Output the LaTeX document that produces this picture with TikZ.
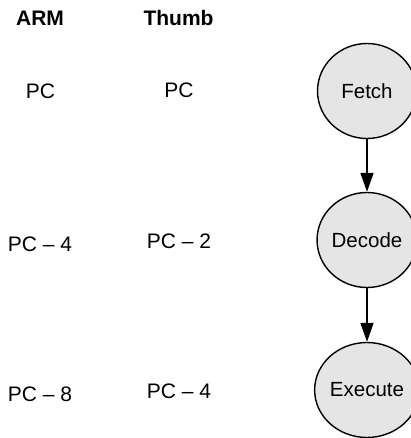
\documentclass[tikz,border=0pt]{standalone}
\usepackage{fontspec}
\setmainfont{Liberation Sans}
\usetikzlibrary{shapes.geometric,arrows.meta}
\begin{document}
\begin{tikzpicture}[x=1pt,y=-1pt,
  lbl/.style={anchor=base,inner sep=0pt,font=\fontsize{21}{25}\selectfont},
  hdr/.style={lbl,font=\fontsize{21}{25}\selectfont\bfseries},
  stage/.style={ellipse,draw=black,line width=1.4pt,fill=black!10,minimum width=99pt,minimum height=95pt,inner sep=0pt,font=\fontsize{20.5}{25}\selectfont},
  flow/.style={line width=1.6pt,-{Triangle[length=19pt,width=13pt]}}]
\useasboundingbox (0,0) rectangle (410,438);
\node[hdr] (arm) at (40,26) {ARM};
\node[hdr] (thumb) at (178.5,26) {Thumb};
\node[lbl] (a1) at (40.5,99) {PC};
\node[lbl] (t1) at (179,97.3) {PC};
\node[lbl] (a2) at (40,251) {PC – 4};
\node[lbl] (t2) at (179,248.3) {PC – 2};
\node[lbl] (a3) at (40,401) {PC – 8};
\node[lbl] (t3) at (179,398.3) {PC – 4};
\node[stage] (fetch) at (367,91) {Fetch};
\node[stage] (decode) at (367,240) {Decode};
\node[stage] (execute) at (367,390) {Execute};
\draw[flow] (fetch) -- (decode);
\draw[flow] (decode) -- (execute);
\end{tikzpicture}
\end{document}
